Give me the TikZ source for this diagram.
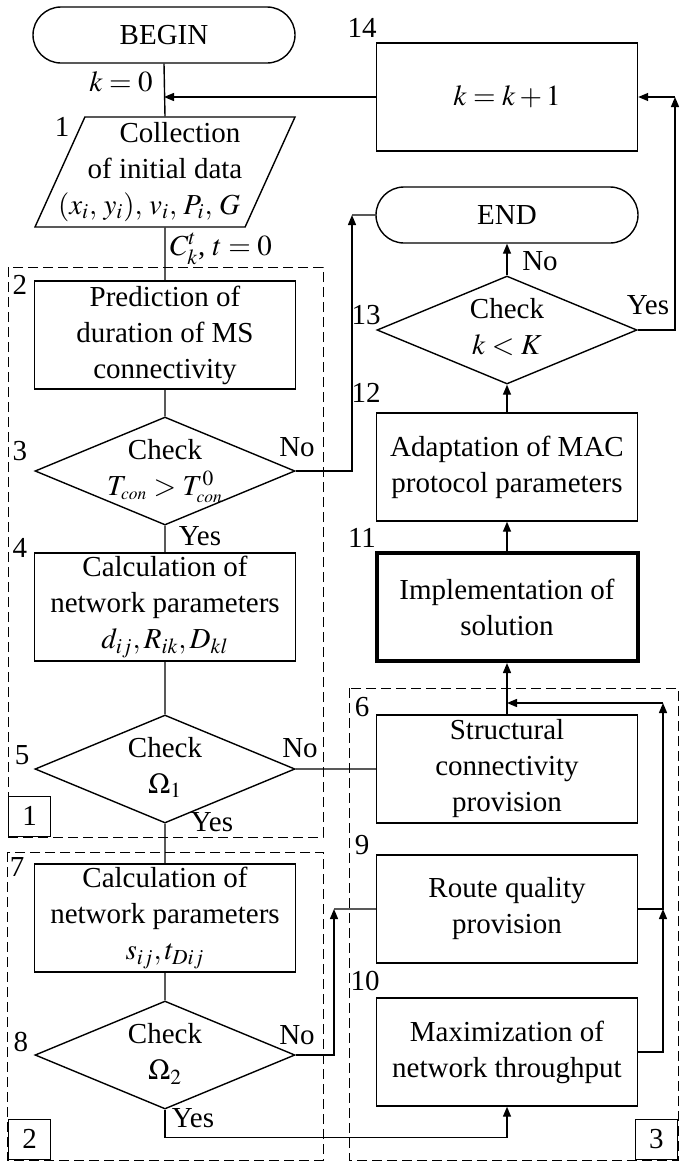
\documentclass[tikz,border=0pt]{standalone}
\usepackage{mathptmx}
\usepackage{fontspec}
\setmainfont{Liberation Serif}
\usetikzlibrary{shapes.geometric,shapes.misc,arrows.meta}

\newcommand{\dtxt}[1]{\makebox[0pt]{\smash{\raisebox{-0.5ex}{\begin{tabular}{@{}c@{}}#1\end{tabular}}}}}

\begin{document}
\begin{tikzpicture}[x=0.5pt,y=-0.5pt,line width=0.7pt,
	every node/.style={font=\fontsize{14.5}{18}\selectfont,align=center,inner sep=0pt},
	blk/.style={draw,minimum width=130.5pt,minimum height=54pt},
	dec/.style={draw,diamond,minimum width=130pt,minimum height=54pt},
	term/.style={draw,rounded rectangle,minimum width=131pt,minimum height=28pt},
	inout/.style={draw,trapezium,trapezium left angle=65.6,trapezium right angle=114.4,trapezium stretches body,minimum width=130pt,minimum height=55pt},
	area/.style={draw,dash pattern=on 5pt off 2.5pt,line width=0.5pt},
	tag/.style={draw,minimum width=21pt,minimum height=20pt},
	arr/.style={-{Triangle[length=5pt,width=4pt]}}]
	\useasboundingbox (0,0) rectangle (680,1162);

	% groups
	\draw[area] (8,267) rectangle (323,837);
	\draw[area] (7,852) rectangle (323,1160);
	\draw[area] (349,688) rectangle (678,1160);
	\node[tag,anchor=south west] (g1) at (8,837) {1};
	\node[tag,anchor=south west] (g2) at (8,1160) {2};
	\node[tag,anchor=south east] (g3) at (678,1160) {3};

	% left column
	\node[term] (nb) at (164,35) {BEGIN};
	\node[inout] (n1) at (165,172) {\raisebox{-27.5pt}{\rule{0pt}{55pt}}\dtxt{\hspace*{15pt}Collection\\of initial data\\$(x_i,\, y_i),\, v_i,\, P_i,\, G$\hspace*{16pt}}};
	\node[blk] (n2) at (165,335) {Prediction of\\duration of MS\\connectivity};
	\node[dec] (n3) at (165,471) {\dtxt{Check\\$T_{\scriptscriptstyle con}>T_{\scriptscriptstyle con}^0$}};
	\node[blk] (n4) at (165,607) {Calculation of\\network parameters\\$d_{ij}, R_{ik}, D_{kl}$};
	\node[dec] (n5) at (165,769) {\dtxt{Check\\$\Omega_1$}};
	\node[blk] (n7) at (165,918) {Calculation of\\network parameters\\$s_{ij}, t_{Dij}$};
	\node[dec] (n8) at (165,1055) {\dtxt{Check\\$\Omega_2$}};

	% right column
	\node[blk] (n14) at (507,97) {$k=k+1$};
	\node[term] (ne) at (507,215) {END};
	\node[dec] (n13) at (507,330) {\dtxt{Check\\$k<K$}};
	\node[blk] (n12) at (507,467) {Adaptation of MAC\\protocol parameters};
	\node[blk,line width=2pt] (n11) at (507,607) {Implementation of\\solution};
	\node[blk] (n6) at (507,769) {Structural\\connectivity\\provision};
	\node[blk] (n9) at (507,909) {Route quality\\provision};
	\node[blk] (n10) at (507,1052) {Maximization of\\network throughput};

	% numbers
	\node (t1) at (62,127) {1};
	\node (t2) at (20,285) {2};
	\node (t3) at (20,451) {3};
	\node (t4) at (20,548) {4};
	\node (t5) at (22,755) {5};
	\node (t6) at (362,707) {6};
	\node (t7) at (17,867) {7};
	\node (t8) at (21,1042) {8};
	\node (t9) at (362,845) {9};
	\node (t10) at (365,981) {10};
	\node (t11) at (362,538) {11};
	\node (t12) at (366,393) {12};
	\node (t13) at (366,315) {13};
	\node (t14) at (362,28) {14};

	% texts on the lines
	\node (k0) at (121,82) {$k=0$};
	\node (c0) at (221,249) {$C_k^t$, $t=0$};
	\node (y3) at (200,536) {Yes};
	\node (o3) at (297,447) {No};
	\node (y5) at (212,822) {Yes};
	\node (o5) at (300,748) {No};
	\node (y8) at (193,1118) {Yes};
	\node (o8) at (297,1035) {No};
	\node (y13) at (648,305) {Yes};
	\node (o13) at (540,261) {No};

	\coordinate (c3) at (352,215);
	\coordinate (c8) at (334,909);
	\coordinate (c9) at (663,909);
	\coordinate (c6) at (663,703);
	\coordinate (c13) at (675,97);

	\draw (nb.south) -- (n1.north)
	(n1.south) -- (n2.north)
	(n2.south) -- (n3.north)
	(n3.south) -- (n4.north)
	(n4.south) -- (n5.north)
	(n5.south) -- (n7.north)
	(n7.south) -- (n8.north)
	(n5.east) -- (n6.west)
	(c3) -- (ne.west)
	(c8) -- (n9.west);

	\draw[arr] (n14.west) -- (n14.west -| nb.south);
	\draw[arr] (n3.east) -| (c3);
	\draw[arr] (n8.east) -| (c8);
	\draw[arr] (n8.south) -- ++(0,28) -| (n10.south);
	\draw[arr] (n10.east) -| (c9);
	\draw[arr] (n9.east) -| (c6);
	\draw[arr] (c6) -- (c6 -| n6.north);
	\draw[arr] (n6.north) -- (n11.south);
	\draw[arr] (n11.north) -- (n12.south);
	\draw[arr] (n12.north) -- (n13.south);
	\draw[arr] (n13.north) -- (ne.south);
	\draw[arr] (n13.east) -| (c13);
	\draw[arr] (c13) -- (n14.east);

\end{tikzpicture}
\end{document}
